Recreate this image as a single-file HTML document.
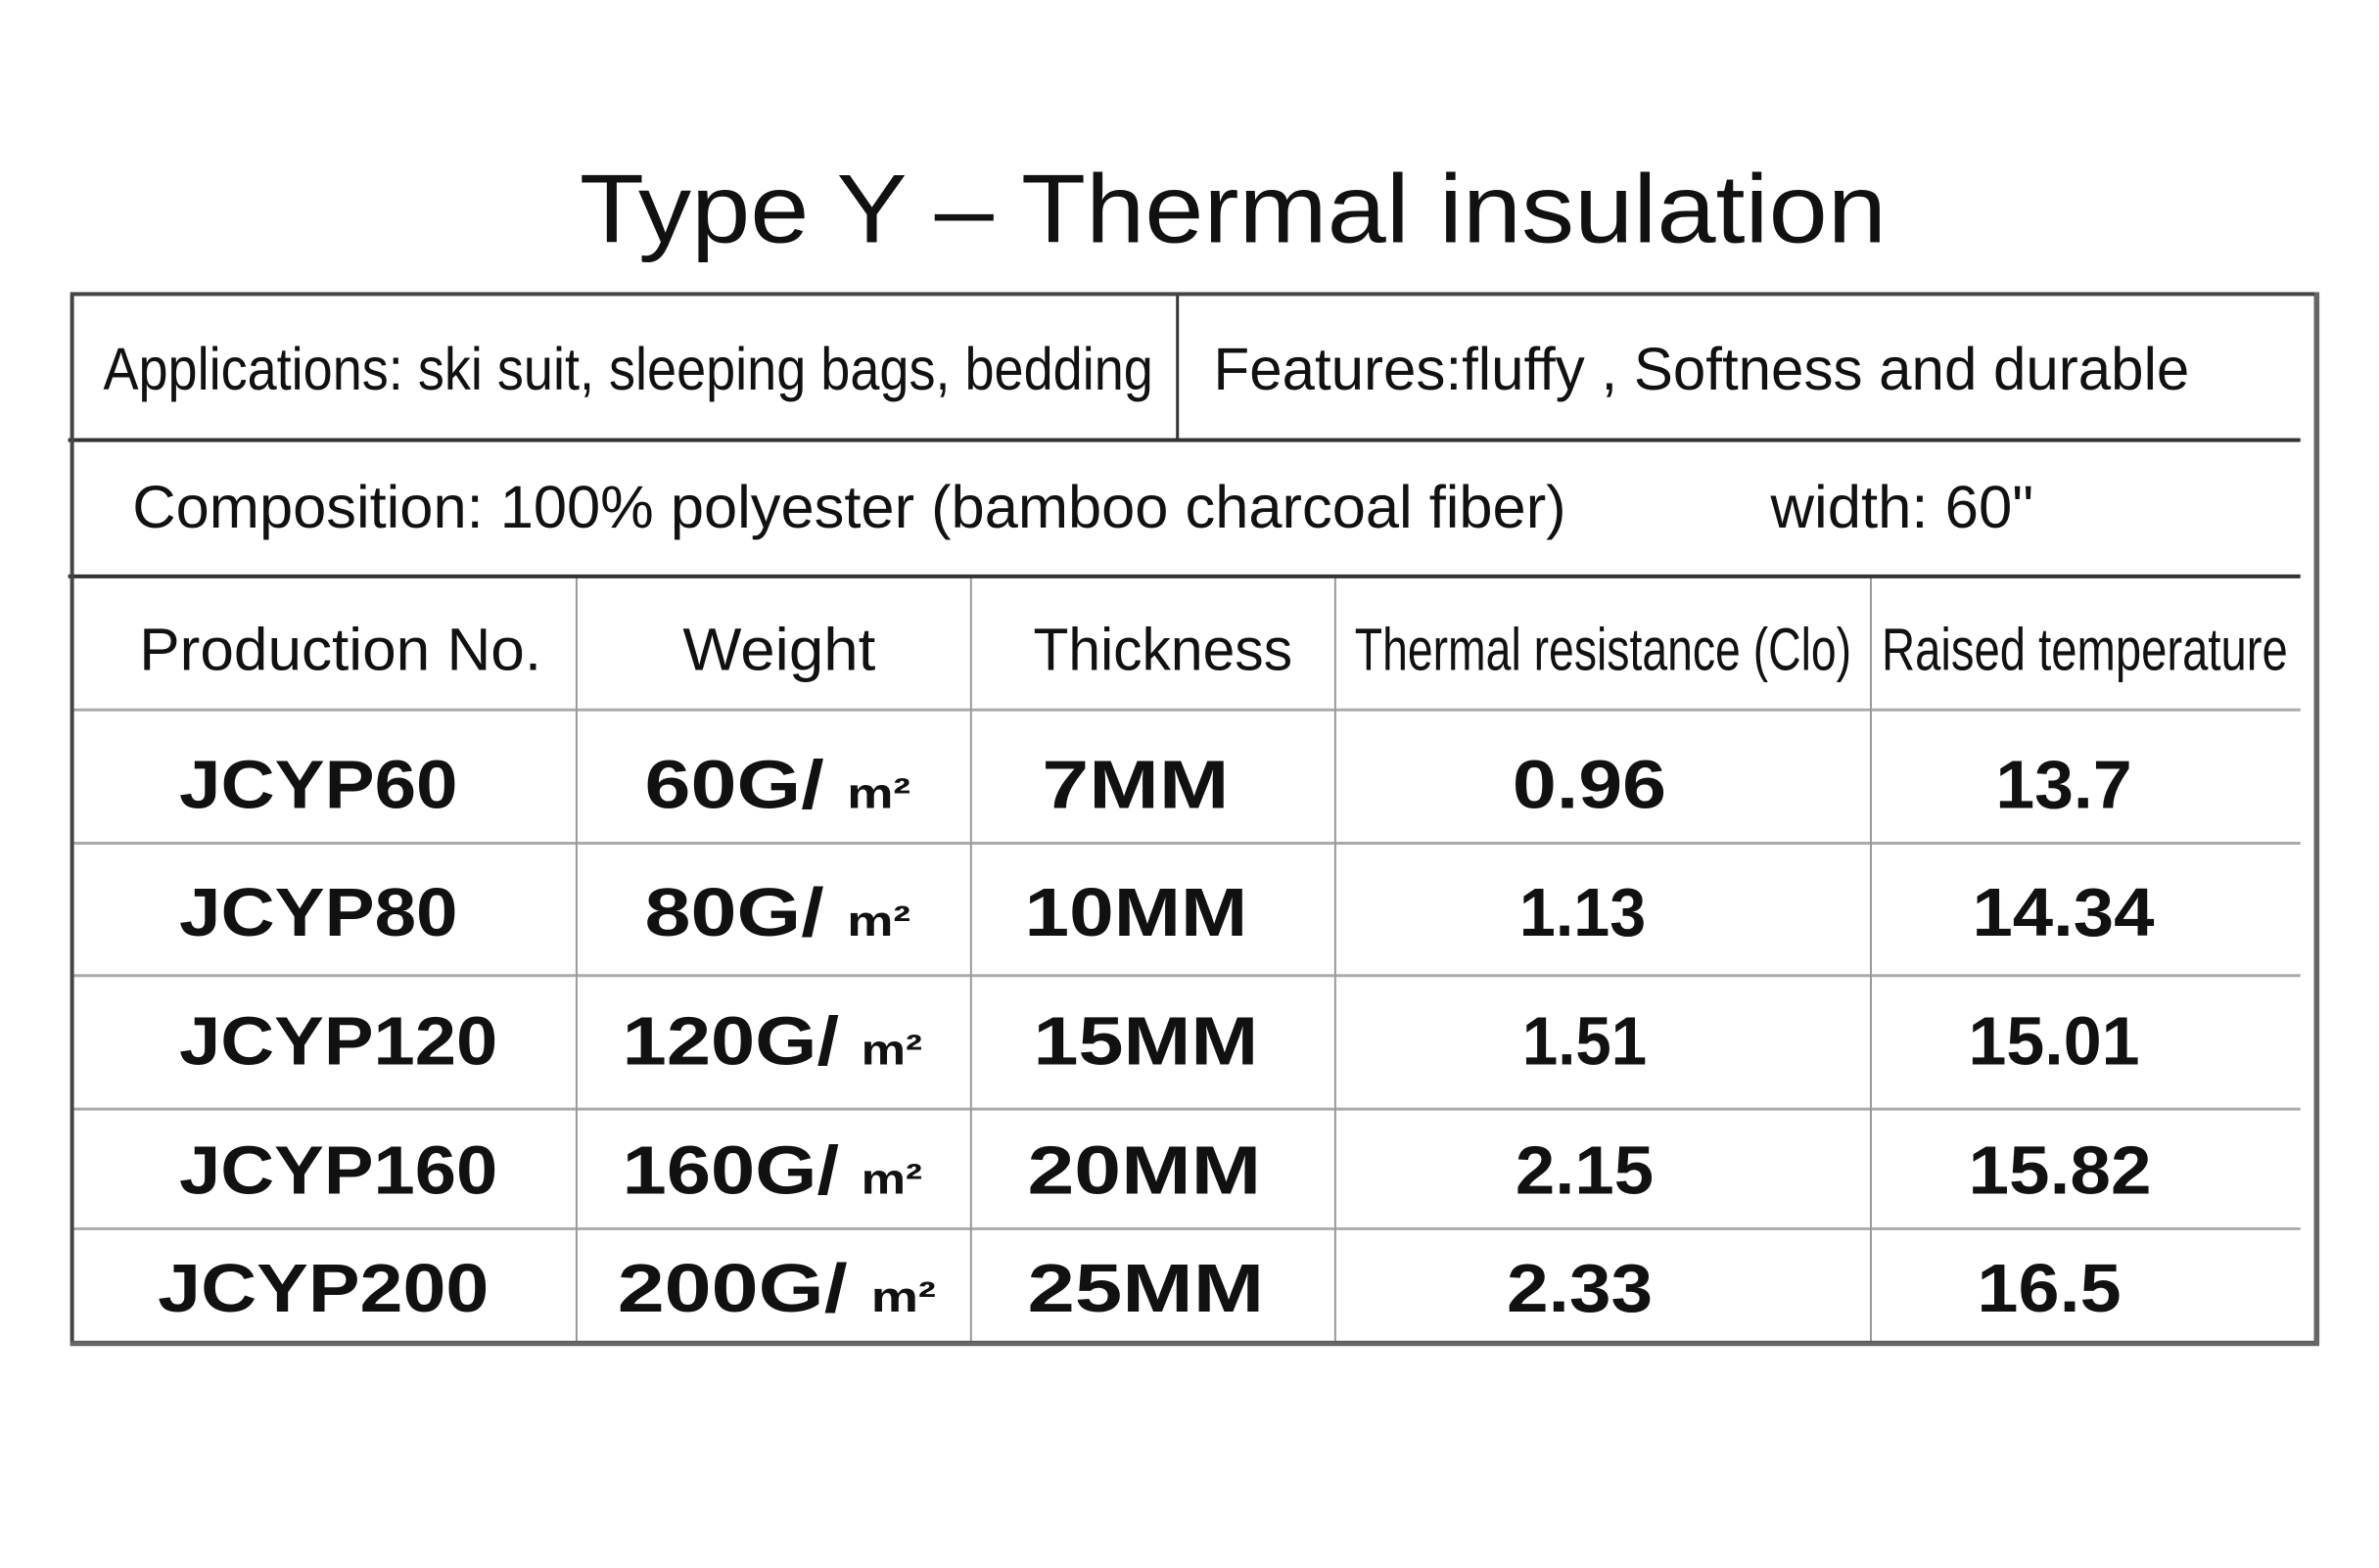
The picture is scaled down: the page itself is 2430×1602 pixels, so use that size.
<!DOCTYPE html>
<html><head><meta charset="utf-8"><style>html,body{margin:0;padding:0;background:#fff}svg{display:block}</style></head>
<body>
<svg width="2430" height="1602" viewBox="0 0 2430 1602" xmlns="http://www.w3.org/2000/svg">
<rect width="2430" height="1602" fill="#fff"/>
<g transform="scale(0.9948)">
<text x="595" y="249" textLength="1342" lengthAdjust="spacingAndGlyphs" font-family="Liberation Sans, sans-serif" font-size="100" fill="#111">Type Y – Thermal insulation</text>
<g stroke="#aaa" stroke-width="3">
<line x1="73" y1="729" x2="2362" y2="729"/>
<line x1="73" y1="866" x2="2362" y2="866"/>
<line x1="73" y1="1002" x2="2362" y2="1002"/>
<line x1="73" y1="1139" x2="2362" y2="1139"/>
<line x1="73" y1="1262" x2="2362" y2="1262"/>
</g>
<g stroke="#999" stroke-width="2">
<line x1="592" y1="592" x2="592" y2="1380"/>
<line x1="997" y1="592" x2="997" y2="1380"/>
<line x1="1371" y1="592" x2="1371" y2="1380"/>
<line x1="1921" y1="592" x2="1921" y2="1380"/>
</g>
<g stroke="#333" stroke-width="4">
<line x1="70" y1="452" x2="2362" y2="452"/>
<line x1="70" y1="592" x2="2362" y2="592"/>
<line x1="1209" y1="301" x2="1209" y2="452" stroke-width="3"/>
</g>
<rect x="74" y="302" width="2304" height="1077" fill="none" stroke="#444" stroke-width="4"/>
<line x1="2379" y1="300" x2="2379" y2="1382" stroke="#666" stroke-width="5"/>
<line x1="72" y1="1380" x2="2381" y2="1380" stroke="#666" stroke-width="5"/>
<g font-family="Liberation Sans, sans-serif" font-size="62" fill="#111">
<text x="106" y="400" textLength="1078" lengthAdjust="spacingAndGlyphs">Applications: ski suit, sleeping bags, bedding</text>
<text x="1246" y="400" textLength="1002" lengthAdjust="spacingAndGlyphs">Features:fluffy , Softness and durable</text>
<text x="136" y="542" textLength="1472" lengthAdjust="spacingAndGlyphs">Composition: 100% polyester (bamboo charcoal fiber)</text>
<text x="1818" y="542" textLength="270" lengthAdjust="spacingAndGlyphs">width: 60"</text>
<text x="143" y="688" textLength="413" lengthAdjust="spacingAndGlyphs">Production No.</text>
<text x="701" y="688" textLength="198" lengthAdjust="spacingAndGlyphs">Weight</text>
<text x="1061" y="688" textLength="266" lengthAdjust="spacingAndGlyphs">Thickness</text>
<text x="1391" y="688" textLength="510" lengthAdjust="spacingAndGlyphs">Thermal resistance (Clo)</text>
<text x="1932" y="688" textLength="417" lengthAdjust="spacingAndGlyphs">Raised temperature</text>
</g>
<g font-family="Liberation Sans, sans-serif" font-size="70" font-weight="bold" fill="#111">
<text x="184" y="830" textLength="286" lengthAdjust="spacingAndGlyphs">JCYP60</text>
<text x="662" y="830" textLength="273" lengthAdjust="spacingAndGlyphs">60G/ <tspan font-size="44">m²</tspan></text>
<text x="1070" y="830" textLength="192" lengthAdjust="spacingAndGlyphs">7MM</text>
<text x="1553" y="830" textLength="158" lengthAdjust="spacingAndGlyphs">0.96</text>
<text x="2049" y="830" textLength="140" lengthAdjust="spacingAndGlyphs">13.7</text>

<text x="184" y="961" textLength="286" lengthAdjust="spacingAndGlyphs">JCYP80</text>
<text x="662" y="961" textLength="273" lengthAdjust="spacingAndGlyphs">80G/ <tspan font-size="44">m²</tspan></text>
<text x="1052" y="961" textLength="229" lengthAdjust="spacingAndGlyphs">10MM</text>
<text x="1560" y="961" textLength="130" lengthAdjust="spacingAndGlyphs">1.13</text>
<text x="2025" y="961" textLength="187" lengthAdjust="spacingAndGlyphs">14.34</text>

<text x="184" y="1093" textLength="327" lengthAdjust="spacingAndGlyphs">JCYP120</text>
<text x="639" y="1093" textLength="308" lengthAdjust="spacingAndGlyphs">120G/ <tspan font-size="44">m²</tspan></text>
<text x="1061" y="1093" textLength="231" lengthAdjust="spacingAndGlyphs">15MM</text>
<text x="1563" y="1093" textLength="128" lengthAdjust="spacingAndGlyphs">1.51</text>
<text x="2021" y="1093" textLength="176" lengthAdjust="spacingAndGlyphs">15.01</text>

<text x="184" y="1226" textLength="327" lengthAdjust="spacingAndGlyphs">JCYP160</text>
<text x="639" y="1226" textLength="308" lengthAdjust="spacingAndGlyphs">160G/ <tspan font-size="44">m²</tspan></text>
<text x="1055" y="1226" textLength="240" lengthAdjust="spacingAndGlyphs">20MM</text>
<text x="1556" y="1226" textLength="142" lengthAdjust="spacingAndGlyphs">2.15</text>
<text x="2021" y="1226" textLength="188" lengthAdjust="spacingAndGlyphs">15.82</text>

<text x="162" y="1347" textLength="340" lengthAdjust="spacingAndGlyphs">JCYP200</text>
<text x="634" y="1347" textLength="327" lengthAdjust="spacingAndGlyphs">200G/ <tspan font-size="44">m²</tspan></text>
<text x="1055" y="1347" textLength="243" lengthAdjust="spacingAndGlyphs">25MM</text>
<text x="1547" y="1347" textLength="150" lengthAdjust="spacingAndGlyphs">2.33</text>
<text x="2030" y="1347" textLength="148" lengthAdjust="spacingAndGlyphs">16.5</text>
</g>
</g>
</svg>
</body></html>
